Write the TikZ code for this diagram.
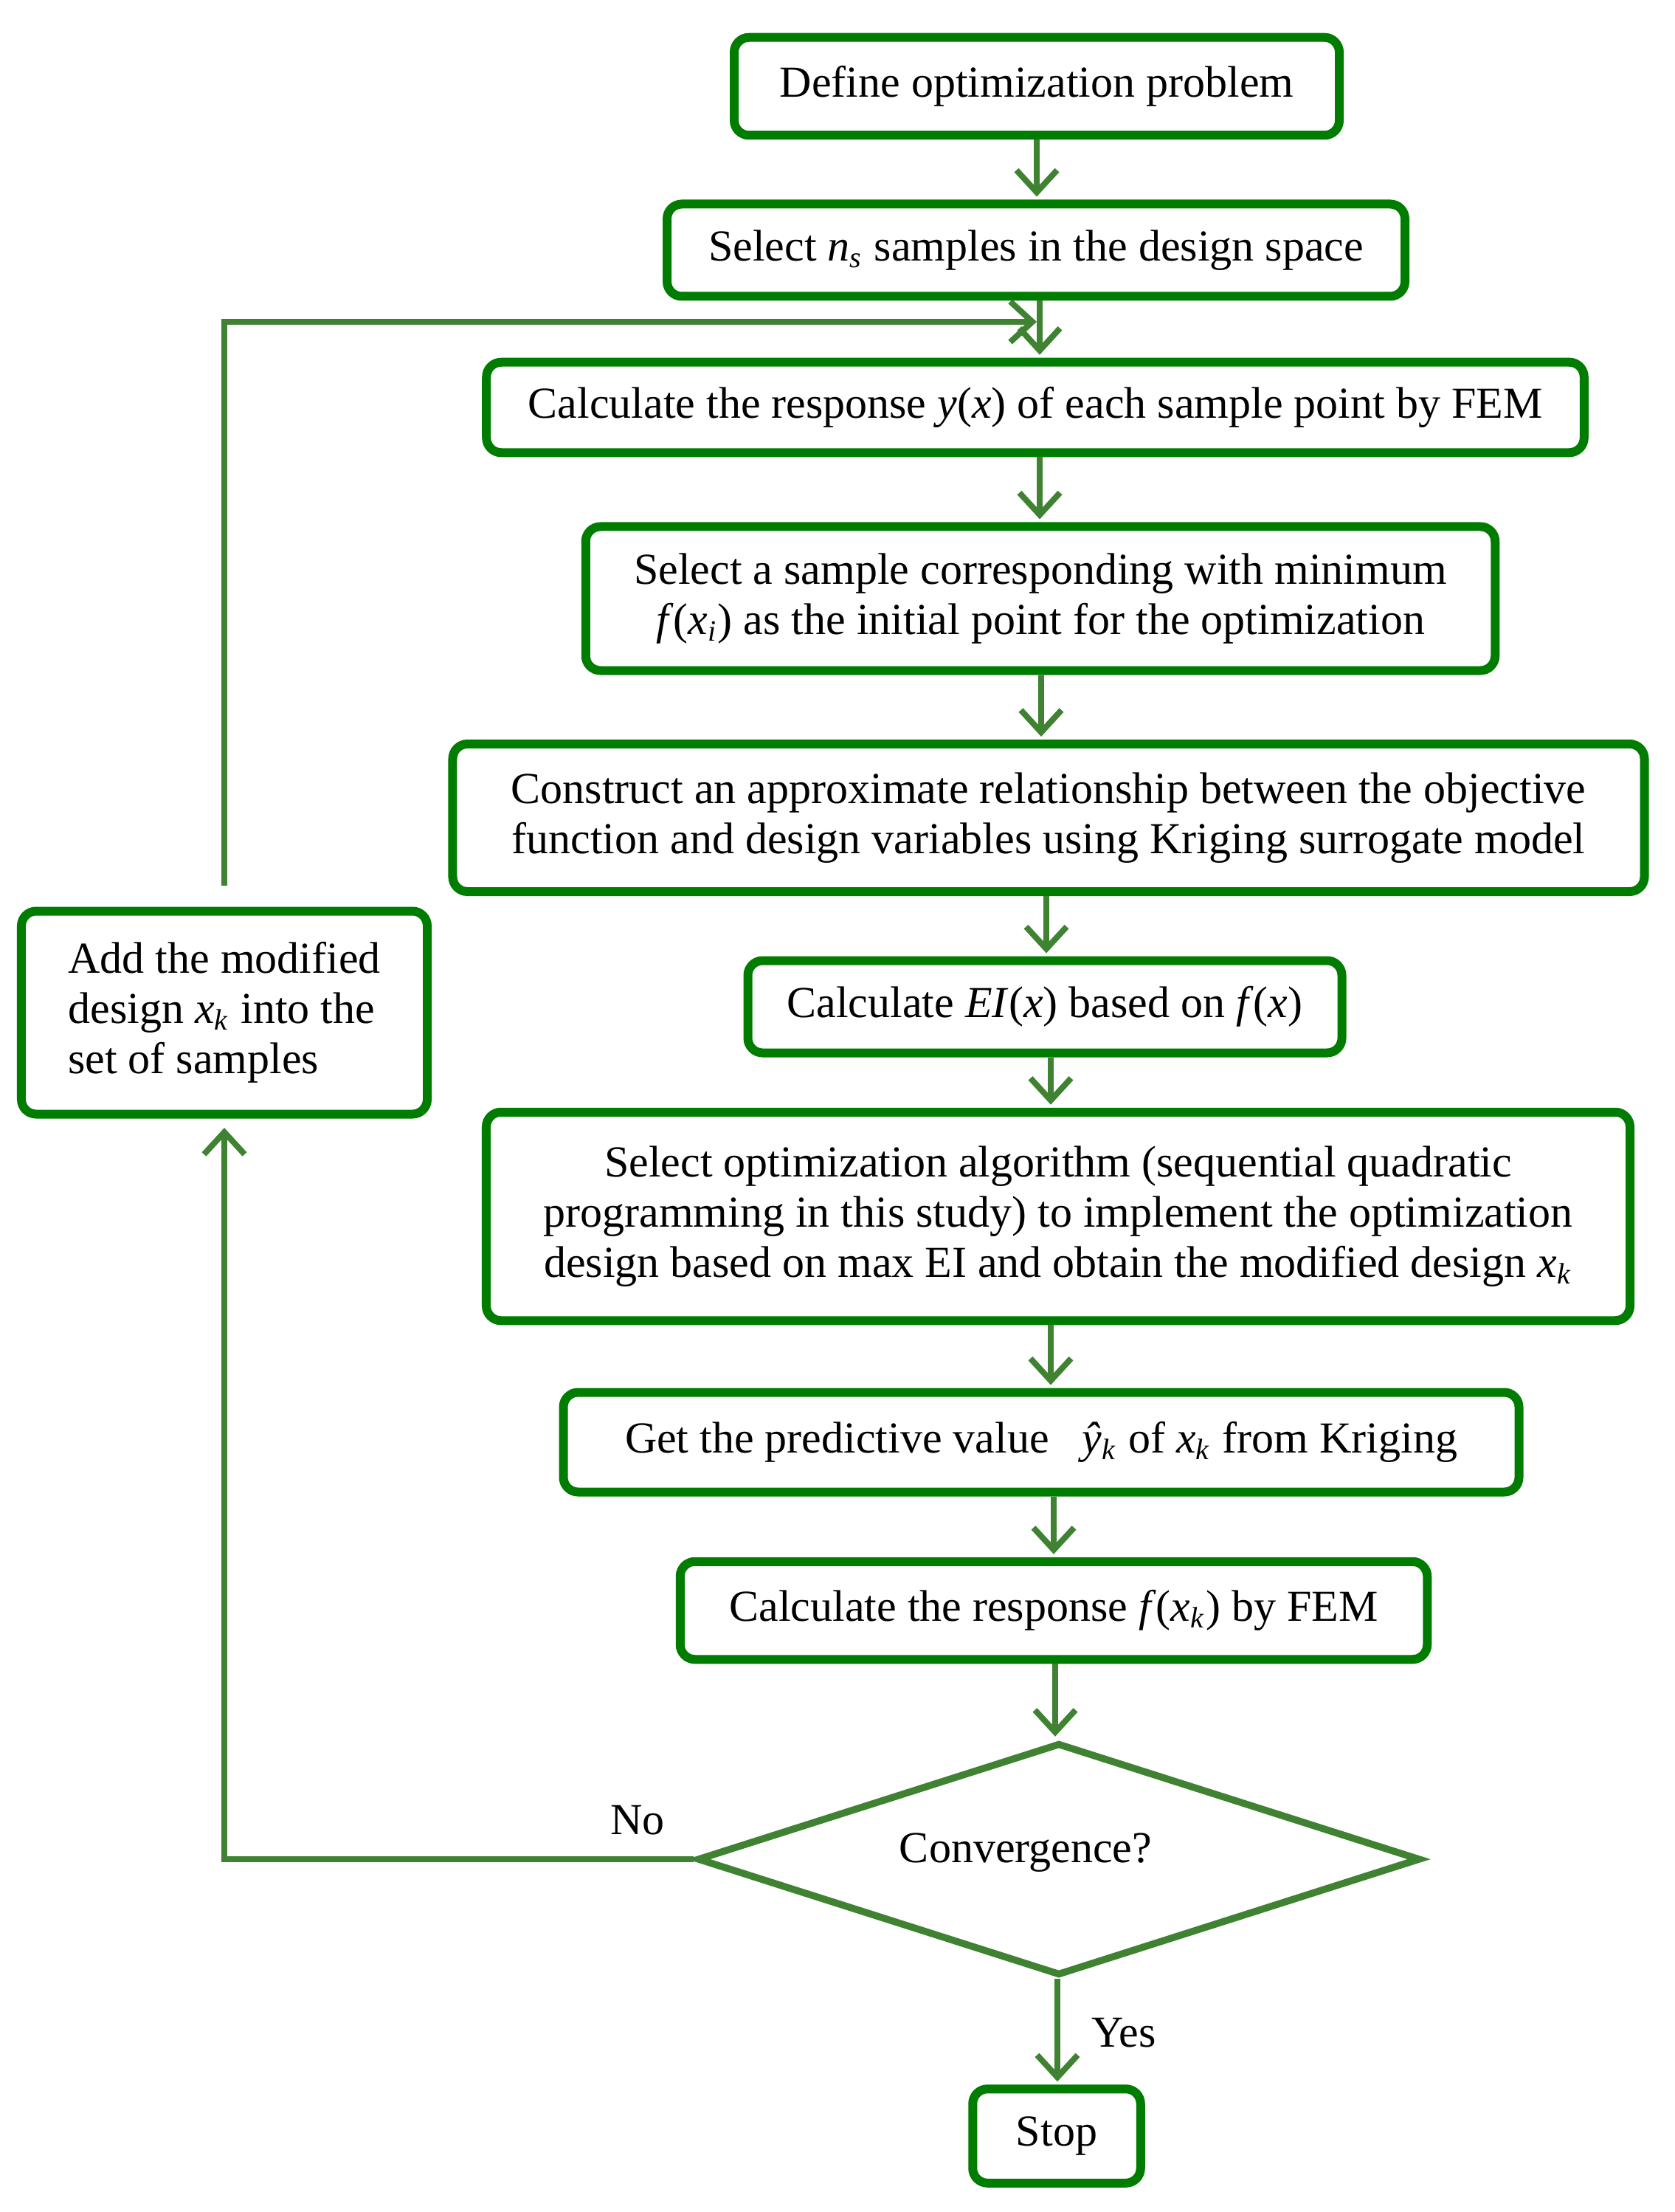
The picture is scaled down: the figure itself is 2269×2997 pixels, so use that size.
\documentclass[tikz,border=0pt]{standalone}
\usepackage{fontspec}
\setmainfont{Liberation Serif}
\usetikzlibrary{arrows.meta,shapes.geometric}
\definecolor{boxgreen}{RGB}{0,125,0}
\definecolor{arrgreen}{RGB}{62,130,50}
\begin{document}
\begin{tikzpicture}[x=0.2pt,y=-0.2pt,
  box/.style={draw=boxgreen, line width=2.4pt, rounded corners=4pt, fill=white,
    align=center, inner sep=0pt, font=\fontsize{12}{13.6}\selectfont},
  dia/.style={diamond, draw=arrgreen, line width=1.9pt, fill=white, inner sep=0pt,
    minimum width=196pt, minimum height=63pt},
  arr/.style={draw=arrgreen, line width=1.6pt, shorten >=0.8pt,
    -{Straight Barb[length=6pt,width=11pt]}},
  lbl/.style={font=\fontsize{12}{13.6}\selectfont, inner sep=0pt}]
\path[use as bounding box] (0,0) rectangle (2269,2997);
\fill[white] (0,0) rectangle (2269,2997);

% nodes
\node[box, minimum width=164pt, minimum height=26.5pt] (b1) at (1405,117) {Define optimization problem};
\node[box, minimum width=200pt, minimum height=25pt] (b2) at (1404,339) {Select \textit{n}\textsubscript{\textit{s}} samples in the design space};
\node[box, minimum width=297.5pt, minimum height=24.5pt] (b3) at (1403,552) {Calculate the response \textit{y}(\textit{x}) of each sample point by FEM};
\node[box, minimum width=246.5pt, minimum height=39pt] (b4) at (1410,811) {Select a sample corresponding with minimum\\ \textit{f}(\textit{x}\textsubscript{\textit{i}}) as the initial point for the optimization};
\node[box, minimum width=323pt, minimum height=40pt] (b5) at (1421,1108) {Construct an approximate relationship between the objective\\function and design variables using Kriging surrogate model};
\node[box, minimum width=161pt, minimum height=25pt] (b6) at (1416,1364) {Calculate \textit{EI}(\textit{x}) based on \textit{f}(\textit{x})};
\node[box, minimum width=310pt, minimum height=56.5pt] (b7) at (1434,1648) {Select optimization algorithm (sequential quadratic\\programming in this study) to implement the optimization\\design based on max EI and obtain the modified design \textit{x}\textsubscript{\textit{k}}};
\node[box, minimum width=259pt, minimum height=27pt] (b8) at (1411,1954) {Get the predictive value \enspace\textit{ŷ}\textsubscript{\textit{k}} of \textit{x}\textsubscript{\textit{k}} from Kriging};
\node[box, minimum width=202.5pt, minimum height=26.5pt] (b9) at (1428,2182) {Calculate the response \textit{f}(\textit{x}\textsubscript{\textit{k}}) by FEM};
\node[dia] (d) at (1435,2519) {};
\node[lbl] (dt) at (1390,2510) {Convergence?};
\node[box, minimum width=45.5pt, minimum height=25.5pt] (stop) at (1432,2894) {Stop};
\node[box, minimum width=110pt, minimum height=55pt, align=left] (add) at (304,1372) {Add the modified\\design \textit{x}\textsubscript{\textit{k}} into the\\set of samples};
\node[lbl] (no) at (864,2466) {No};
\node[lbl] (yes) at (1523,2754) {Yes};

% connector x positions
\coordinate (c1) at (1405,0);
\coordinate (c2) at (1409,0);
\coordinate (c4) at (1411,0);
\coordinate (c5) at (1418,0);
\coordinate (c6) at (1424,0);
\coordinate (c8) at (1428,0);
\coordinate (c9) at (1430,0);
\coordinate (c10) at (1433,0);
\coordinate (j) at (1405,436);

% main flow
\draw[arr] (b1.south -| c1) -- (b2.north -| c1);
\draw[arr] (b2.south -| c2) -- (b3.north -| c2);
\draw[arr] (b3.south -| c2) -- (b4.north -| c2);
\draw[arr] (b4.south -| c4) -- (b5.north -| c4);
\draw[arr] (b5.south -| c5) -- (b6.north -| c5);
\draw[arr] (b6.south -| c6) -- (b7.north -| c6);
\draw[arr] (b7.south -| c6) -- (b8.north -| c6);
\draw[arr] (b8.south -| c8) -- (b9.north -| c8);
\draw[arr] (b9.south -| c9) -- (d.north -| c9);
\draw[arr] (d.south -| c10) -- (stop.north -| c10);

% loop back
\draw[arr, shorten >=2.5pt] (d.west) -| (add.south);
\draw[arr, shorten >=0pt] ([yshift=5.8pt]add.north) |- (j);
\end{tikzpicture}
\end{document}
